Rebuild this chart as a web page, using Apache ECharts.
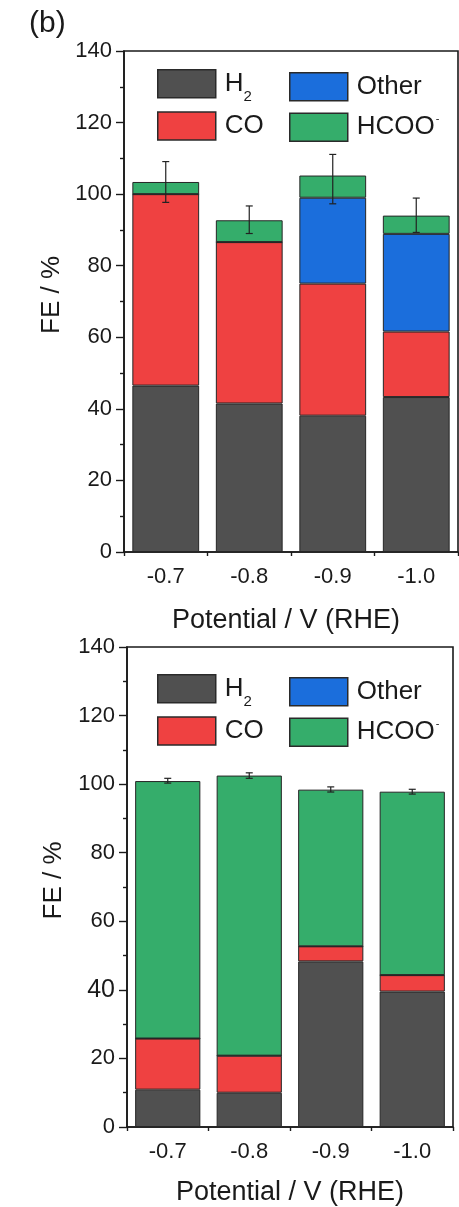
<!DOCTYPE html>
<html>
<head>
<meta charset="utf-8">
<script src="https://cdn.jsdelivr.net/npm/echarts@6/dist/echarts.min.js"></script>
<style>
  html, body { margin: 0; padding: 0; background: #fff; }
  #chart { width: 459px; height: 1207px; }
</style>
</head>
<body>
<div id="chart"></div>
<script>
// Potentials on the x axis and the products stacked in each bar
const categories = ['-0.7', '-0.8', '-0.9', '-1.0'];
const productNames = ['H2', 'CO', 'Other', 'HCOO-'];
const yTicks = [0, 20, 40, 60, 80, 100, 120, 140];

// Upper panel: Faradaic efficiency of each product (%)
const upperH2 = [46.5, 41.5, 38.1, 43.3];
const upperCO = [53.5, 45.1, 36.9, 18.3];
const upperOther = [0, 0, 24.0, 27.3];
const upperHCOO = [3.4, 6.1, 6.2, 5.1];
const upperErrLow = [97.7, 89.0, 97.3, 89.3];
const upperErrHigh = [109.1, 96.7, 111.1, 98.9];

// Lower panel: Faradaic efficiency of each product (%)
const lowerH2 = [10.9, 10.0, 48.3, 39.5];
const lowerCO = [14.9, 10.8, 4.4, 4.8];
const lowerOther = [0, 0, 0, 0];
const lowerHCOO = [75.1, 81.7, 45.7, 53.5];
const lowerErrLow = [100.3, 101.7, 97.7, 97.1];
const lowerErrHigh = [101.7, 103.3, 99.2, 98.5];

const FONT = '"Liberation Sans", Arial, Helvetica, sans-serif';
const INK = '#1a1a1a';
const colors = { 'H2': '#505050', 'CO': '#ef4141', 'Other': '#1b6edc', 'HCOO-': '#35ad6b' };

const chart = echarts.init(document.getElementById('chart'), null, { renderer: 'canvas' });

function legendLabel(name) {
  if (name === 'H2') return '{n|H}{sub|2}';
  if (name === 'HCOO-') return '{n|HCOO}{sup|-}';
  return '{n|' + name + '}';
}

// The tall subscript line box pushes the "2" below the baseline of "H"
const legendText = {
  fontFamily: FONT,
  color: INK,
  padding: [0, 0, 0, 4],
  rich: {
    n: { fontFamily: FONT, fontSize: 26, color: INK, lineHeight: 28 },
    sub: { fontFamily: FONT, fontSize: 15, color: INK, lineHeight: 41, verticalAlign: 'bottom' },
    sup: { fontFamily: FONT, fontSize: 11, color: INK, lineHeight: 14, verticalAlign: 'top', padding: [0, 0, 0, 1] }
  }
};

function legend(left, top, names, gap) {
  return {
    left: left, top: top, orient: 'vertical', padding: 0,
    itemWidth: 58, itemHeight: 28, itemGap: gap,
    icon: 'rect', selectedMode: false,
    itemStyle: { borderColor: '#2a2a2a', borderWidth: 1.5 },
    data: names, formatter: legendLabel, textStyle: legendText
  };
}

function xAxisMain(gridIndex, nameGap, namePad) {
  return {
    type: 'category', gridIndex: gridIndex, data: categories, position: 'bottom',
    axisLine: { lineStyle: { color: INK, width: 1.6 } },
    axisTick: { alignWithLabel: true, length: 6, lineStyle: { color: INK, width: 1.4 } },
    axisLabel: { fontFamily: FONT, fontSize: 22, color: INK, margin: 14 },
    name: 'Potential / V (RHE)', nameLocation: 'middle', nameGap: nameGap,
    nameTextStyle: { fontFamily: FONT, fontSize: 27, color: INK, padding: namePad },
    splitLine: { show: false }
  };
}

// Second category axis only for the short ticks between the bars
function xAxisBoundary(gridIndex) {
  return {
    type: 'category', gridIndex: gridIndex, data: categories, position: 'bottom',
    axisLine: { show: false },
    axisTick: { show: true, length: 4, lineStyle: { color: INK, width: 1.4 } },
    axisLabel: { show: false }, splitLine: { show: false }
  };
}

function yAxis(gridIndex, nameGap, bigForty) {
  return {
    type: 'value', gridIndex: gridIndex, min: 0, max: 140, interval: 20,
    axisLine: { show: true, lineStyle: { color: INK, width: 1.6 } },
    axisTick: { show: true, length: 8, lineStyle: { color: INK, width: 1.4 } },
    minorTick: { show: true, splitNumber: 2, length: 4, lineStyle: { color: INK, width: 1.4 } },
    splitLine: { show: false },
    axisLabel: {
      fontFamily: FONT, fontSize: 22, color: INK, margin: 12,
      formatter: function (v) {
        if (yTicks.indexOf(v) < 0) return '';
        return (bigForty && v === 40) ? '{big|40}' : String(v);
      },
      rich: { big: { fontFamily: FONT, fontSize: 25, color: INK } }
    },
    name: 'FE / %', nameLocation: 'middle', nameGap: nameGap, nameRotate: 90,
    nameTextStyle: { fontFamily: FONT, fontSize: 26, color: INK, padding: [0, 0, 0, 13] }
  };
}

function barSeries(name, values, axisIndex, stack) {
  return {
    type: 'bar', name: name, data: values, stack: stack,
    xAxisIndex: axisIndex * 2, yAxisIndex: axisIndex,
    barWidth: '80%',
    itemStyle: { color: colors[name], borderColor: '#262626', borderWidth: 1 },
    emphasis: { disabled: true }
  };
}

function errorSeries(axisIndex, low, high) {
  return {
    type: 'custom', xAxisIndex: axisIndex * 2, yAxisIndex: axisIndex, z: 10,
    data: categories.map(function (c, i) { return [i, low[i], high[i]]; }),
    encode: { x: 0, y: [1, 2] },
    renderItem: function (params, api) {
      const i = api.value(0);
      const lo = api.coord([i, api.value(1)]);
      const hi = api.coord([i, api.value(2)]);
      const half = 3.5;
      const style = { stroke: '#222', lineWidth: 1.2 };
      return {
        type: 'group',
        children: [
          { type: 'line', shape: { x1: hi[0], y1: hi[1], x2: lo[0], y2: lo[1] }, style: style },
          { type: 'line', shape: { x1: hi[0] - half, y1: hi[1], x2: hi[0] + half, y2: hi[1] }, style: style },
          { type: 'line', shape: { x1: lo[0] - half, y1: lo[1], x2: lo[0] + half, y2: lo[1] }, style: style }
        ]
      };
    }
  };
}

const option = {
  animation: false,
  backgroundColor: '#fff',
  textStyle: { fontFamily: FONT },
  graphic: [{
    type: 'text', left: 29, top: 9,
    style: { text: '(b)', font: '30px ' + FONT, fill: INK }
  }],
  grid: [
    { left: 124, top: 51, width: 334, height: 501, show: true, borderColor: INK, borderWidth: 1.6, backgroundColor: 'transparent' },
    { left: 127, top: 647, width: 326, height: 481, show: true, borderColor: INK, borderWidth: 1.6, backgroundColor: 'transparent' }
  ],
  legend: [
    legend(157, 69, ['H2', 'CO'], 7),
    legend(289, 72, ['Other', 'HCOO-'], 11),
    legend(157, 674, ['H2', 'CO'], 7),
    legend(289, 677, ['Other', 'HCOO-'], 11)
  ],
  xAxis: [xAxisMain(0, 55, [0, 10, 0, 0]), xAxisBoundary(0), xAxisMain(1, 52, 0), xAxisBoundary(1)],
  yAxis: [yAxis(0, 52, false), yAxis(1, 60, true)],
  series: [
    barSeries('H2', upperH2, 0, 'upper'),
    barSeries('CO', upperCO, 0, 'upper'),
    barSeries('Other', upperOther, 0, 'upper'),
    barSeries('HCOO-', upperHCOO, 0, 'upper'),
    errorSeries(0, upperErrLow, upperErrHigh),
    barSeries('H2', lowerH2, 1, 'lower'),
    barSeries('CO', lowerCO, 1, 'lower'),
    barSeries('Other', lowerOther, 1, 'lower'),
    barSeries('HCOO-', lowerHCOO, 1, 'lower'),
    errorSeries(1, lowerErrLow, lowerErrHigh)
  ]
};

chart.setOption(option);
</script>
</body>
</html>
